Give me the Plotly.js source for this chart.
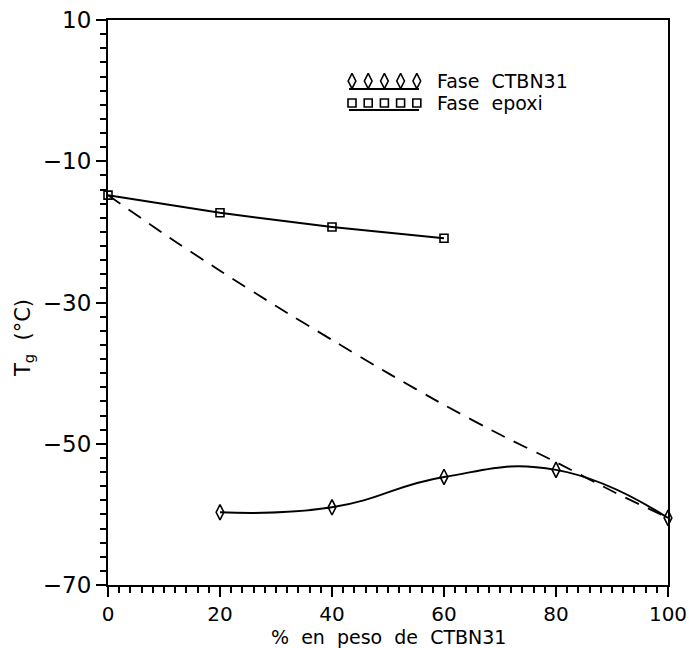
<!DOCTYPE html>
<html>
<head>
<meta charset="utf-8">
<script src="https://cdn.plot.ly/plotly-3.0.1.min.js"></script>
<style>
  html, body { margin: 0; padding: 0; background: #fff; }
  #chart { width: 689px; height: 648px; }
</style>
</head>
<body>
<div id="chart"></div>
<script>
// Composition, % by weight of CTBN31
const epoxiX = [0, 20, 40, 60];
const epoxiTg = [-14.8, -17.3, -19.3, -20.9];

const ctbnX = [20, 40, 60, 80, 100];
const ctbnTg = [-59.7, -59.0, -54.7, -53.7, -60.5];

// Predicted Tg of the fully miscible blend (dashed curve)
const mixX = [0, 10, 20, 30, 40, 50, 60, 70, 80, 90, 100];
const mixTg = [-14.8, -20.3, -25.5, -30.5, -35.3, -40.0, -44.5, -48.7, -52.6, -56.7, -60.5];

const xTicks = [0, 20, 40, 60, 80, 100];
const yTicks = [10, -10, -30, -50, -70];

const legendLabels = ['Fase  CTBN31', 'Fase  epoxi'];
const xTitle = '%  en  peso  de  CTBN31';
const yTitle = 'T<sub>g</sub>  (°C)';

const FONT = 'DejaVu Sans, Liberation Sans, Arial, sans-serif';
const INK = '#000';

// Plot-area geometry (pixels) used to place the hand-drawn key and titles
const L = 108, R = 668, T = 20, B = 585;
const X0 = 0, X1 = 100, Y0 = -70, Y1 = 10;
const px = v => (v - L) / (R - L);
const py = v => (B - v) / (B - T);
const dx = v => X0 + px(v) * (X1 - X0);
const dy = v => Y0 + py(v) * (Y1 - Y0);

// Key icons: five markers over an underline for each series
const keyRows = [
  { y: 81, line: 89, symbol: 'diamond-tall-open', size: 11 },
  { y: 103, line: 110, symbol: 'square-open', size: 8 }
];
const keyTraces = keyRows.map(r => {
  const xs = [], ys = [];
  for (let i = 0; i < 5; i++) { xs.push(dx(352 + i * 16.2)); ys.push(dy(r.y)); }
  return {
    x: xs, y: ys, type: 'scatter', mode: 'markers',
    marker: { symbol: r.symbol, size: r.size, color: INK, line: { color: INK, width: 1.6 } },
    cliponaxis: false, showlegend: false, hoverinfo: 'skip'
  };
});
const keyShapes = keyRows.map(r => ({
  type: 'line', xref: 'paper', yref: 'paper',
  x0: px(349), x1: px(419), y0: py(r.line), y1: py(r.line),
  line: { color: INK, width: 2 }
}));
const keyText = keyRows.map((r, i) => ({
  xref: 'paper', yref: 'paper', x: px(436), y: py(r.y), xanchor: 'left', yanchor: 'middle',
  text: legendLabels[i], showarrow: false, font: { family: FONT, size: 19, color: INK },
  borderpad: 0
}));

const traces = [
  {
    x: mixX, y: mixTg, type: 'scatter', mode: 'lines',
    line: { color: INK, width: 1.8, dash: '15px,10px', shape: 'spline', smoothing: 0.6 },
    showlegend: false, hoverinfo: 'skip'
  },
  {
    x: epoxiX, y: epoxiTg, type: 'scatter', mode: 'lines+markers',
    line: { color: INK, width: 2, shape: 'spline', smoothing: 0.4 },
    marker: { symbol: 'square-open', size: 8, color: INK, line: { color: INK, width: 1.6 } },
    cliponaxis: false, showlegend: false
  },
  {
    x: ctbnX, y: ctbnTg, type: 'scatter', mode: 'lines+markers',
    line: { color: INK, width: 2, shape: 'spline', smoothing: 1.3 },
    marker: { symbol: 'diamond-tall-open', size: 11, color: INK, line: { color: INK, width: 1.6 } },
    cliponaxis: false, showlegend: false
  },
  ...keyTraces
];

// Short ticks every 2 units on both axes
const minorTicks = {
  dtick: 2, ticks: 'outside', ticklen: 6, tickwidth: 2, tickcolor: INK, showgrid: false
};

const layout = {
  width: 689, height: 648,
  margin: { l: L, r: 689 - R, t: T, b: 648 - B },
  paper_bgcolor: '#fff', plot_bgcolor: '#fff',
  showlegend: false,
  xaxis: {
    range: [X0, X1],
    showgrid: false, zeroline: false,
    showline: true, linecolor: INK, linewidth: 2, mirror: true,
    ticks: 'outside', ticklen: 10, tickwidth: 2, tickcolor: INK,
    ticklabeloverflow: 'allow',
    tickmode: 'array', tickvals: xTicks, ticktext: xTicks.map(String),
    tickfont: { family: FONT, size: 20, color: INK },
    minor: minorTicks
  },
  yaxis: {
    range: [Y0, Y1],
    showgrid: false, zeroline: false,
    showline: true, linecolor: INK, linewidth: 2, mirror: true,
    ticks: 'outside', ticklen: 10, tickwidth: 2, tickcolor: INK,
    tickmode: 'array', tickvals: yTicks,
    ticktext: yTicks.map(v => v < 0 ? '\u2212' + Math.abs(v) : String(v)),
    tickfont: { family: FONT, size: 23, color: INK },
    minor: minorTicks
  },
  shapes: keyShapes,
  annotations: [
    ...keyText,
    {
      xref: 'paper', yref: 'paper', x: 0.5, y: py(637), xanchor: 'center', yanchor: 'middle',
      showarrow: false, text: xTitle, font: { family: FONT, size: 19, color: INK }, borderpad: 0
    },
    {
      xref: 'paper', yref: 'paper', x: px(24), y: py(338), xanchor: 'center', yanchor: 'middle',
      textangle: -90, showarrow: false, text: yTitle, font: { family: FONT, size: 21, color: INK }
    }
  ]
};

Plotly.newPlot('chart', traces, layout, { staticPlot: true, displayModeBar: false });
</script>
</body>
</html>
